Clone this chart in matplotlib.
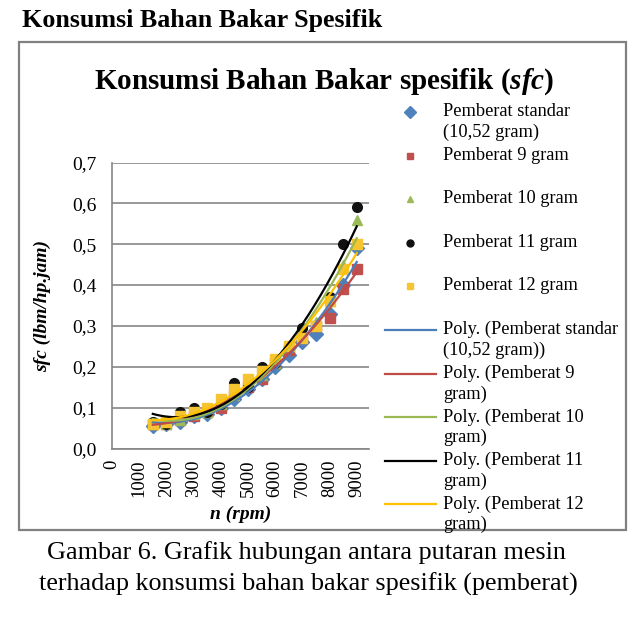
import numpy as np
import matplotlib
matplotlib.use("Agg")
import matplotlib.pyplot as plt
from matplotlib.patches import Rectangle
from matplotlib.lines import Line2D

plt.rcParams['font.family'] = ['Liberation Serif', 'DejaVu Serif']
plt.rcParams['mathtext.fontset'] = 'custom'
plt.rcParams['mathtext.it'] = 'Liberation Serif:italic:bold'
plt.rcParams['mathtext.rm'] = 'Liberation Serif:bold'

# data
rpm = [1500, 2000, 2500, 3000, 3500, 4000, 4500, 5000,
       5500, 6000, 6500, 7000, 7500, 8000, 8500, 9000]
sfc_std = [0.055, 0.060, 0.065, 0.080, 0.085, 0.100, 0.120, 0.145,
           0.170, 0.200, 0.230, 0.260, 0.280, 0.330, 0.400, 0.490]
sfc_9 = [0.060, 0.060, 0.070, 0.080, 0.090, 0.100, 0.130, 0.150,
         0.170, 0.210, 0.240, 0.270, 0.300, 0.320, 0.390, 0.440]
sfc_10 = [0.060, 0.060, 0.070, 0.085, 0.090, 0.110, 0.130, 0.160,
          0.180, 0.210, 0.250, 0.280, 0.310, 0.360, 0.450, 0.560]
sfc_11 = [0.065, 0.060, 0.090, 0.100, 0.090, 0.110, 0.160, 0.150,
          0.200, 0.210, 0.250, 0.295, 0.300, 0.370, 0.500, 0.590]
sfc_12 = [0.060, 0.065, 0.080, 0.090, 0.100, 0.120, 0.145, 0.170,
          0.190, 0.220, 0.250, 0.270, 0.300, 0.360, 0.440, 0.500]

series = [
    ('Pemberat standar\n(10,52 gram)', sfc_std, 'D', '#4F81BD', '#4A7EBB', 'Poly. (Pemberat standar\n(10,52 gram))'),
    ('Pemberat 9 gram', sfc_9, 's', '#C0504D', '#BE4B48', 'Poly. (Pemberat 9\ngram)'),
    ('Pemberat 10 gram', sfc_10, '^', '#9BBB59', '#98B954', 'Poly. (Pemberat 10\ngram)'),
    ('Pemberat 11 gram', sfc_11, 'o', '#111111', '#000000', 'Poly. (Pemberat 11\ngram)'),
    ('Pemberat 12 gram', sfc_12, 's', '#F5C430', '#FFC000', 'Poly. (Pemberat 12\ngram)'),
]
xticks = [0, 1000, 2000, 3000, 4000, 5000, 6000, 7000, 8000, 9000]
yticks = [0.0, 0.1, 0.2, 0.3, 0.4, 0.5, 0.6, 0.7]

fig = plt.figure(figsize=(6.4, 6.25), dpi=100)

# page layer in pixel units
pg = fig.add_axes([0, 0, 1, 1], zorder=0)
pg.set_xlim(0, 640)
pg.set_ylim(625, 0)
pg.axis('off')

pg.add_patch(Rectangle((19, 42), 607, 488, fill=False, ec='#808080', lw=1.6))
pg.text(22, 21, 'Konsumsi Bahan Bakar Spesifik', fontsize=18.7, fontweight='bold',
        va='center', ha='left')
pg.text(324, 82, r'Konsumsi Bahan Bakar spesifik ($\mathit{sfc}$)', fontsize=21,
        fontweight='bold', va='center', ha='center')
pg.text(306, 553, 'Gambar 6. Grafik hubungan antara putaran mesin', fontsize=18.8,
        va='center', ha='center')
pg.text(308, 584, 'terhadap konsumsi bahan bakar spesifik (pemberat)', fontsize=18.8,
        va='center', ha='center')

# main plot
ax = fig.add_axes([112 / 640, 1 - 448.5 / 625, 257 / 640, 286 / 625], zorder=1)
ax.set_facecolor('none')
xs = np.linspace(rpm[0], rpm[-1], 200)
for lab, y, mk, mc, lc, plab in series:
    ax.plot(rpm, y, ls='none', marker=mk, ms=7, mfc=mc, mec=mc, zorder=3)
for lab, y, mk, mc, lc, plab in series:
    c = np.polyfit(rpm, y, 2)
    ax.plot(xs, np.polyval(c, xs), color=lc, lw=1.6, zorder=4)

ax.set_xlim(0, 9450)
ax.set_ylim(0, 0.7)
ax.set_xticks(xticks)
ax.set_xticklabels([str(v) for v in xticks], rotation=90, fontsize=13.5)
ax.set_yticks(yticks)
ax.set_yticklabels([('%.1f' % v).replace('.', ',') for v in yticks], fontsize=14)
ax.tick_params(length=0, pad=8, axis='x')
ax.tick_params(length=0, pad=11, axis='y')
ax.grid(axis='y', color='#868686', lw=1.2)
ax.set_axisbelow(True)
for s in ['top', 'right']:
    ax.spines[s].set_visible(False)
for s in ['left', 'bottom']:
    ax.spines[s].set_color('#868686')
    ax.spines[s].set_linewidth(1.2)
ax.set_xlabel('n (rpm)', fontsize=14, fontstyle='italic', fontweight='bold', labelpad=6)
ax.set_ylabel('sfc (lbm/hp.jam)', fontsize=14, fontstyle='italic', fontweight='bold', labelpad=15)

# legend, drawn on the page layer
y0, pitch = 112, 43.6
fs = 13.2
for i, (lab, y, mk, mc, lc, plab) in enumerate(series):
    yy = y0 + i * pitch
    pg.plot([410], [yy], marker=mk, ms=5 if mk != 'D' else 6.5, mfc=mc, mec=mc, ls='none')
    pg.text(443, yy - 9, lab, fontsize=fs, va='top', ha='left', linespacing=1.25)
for i, (lab, y, mk, mc, lc, plab) in enumerate(series):
    yy = y0 + (i + 5) * pitch
    pg.add_line(Line2D([385, 436], [yy, yy], color=lc, lw=1.6))
    pg.text(443, yy - 9, plab, fontsize=fs, va='top', ha='left', linespacing=1.25)

fig.savefig('out.png', dpi=100)
